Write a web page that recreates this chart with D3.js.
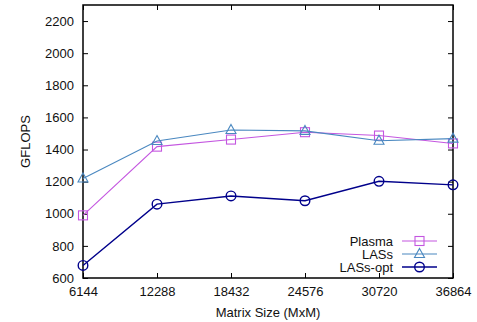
<!DOCTYPE html>
<html>
<head>
<meta charset="utf-8">
<script src="https://cdn.jsdelivr.net/npm/d3@7"></script>
<style>
  body { margin: 0; background: #fff; }
  svg { display: block; font-family: "Liberation Sans", Arial, sans-serif; }
</style>
</head>
<body>
<svg id="chart" width="477" height="322"></svg>
<script>
// matrix sizes on the x axis
const sizes = [6144, 12288, 18432, 24576, 30720, 36864];
const yTicks = [600, 800, 1000, 1200, 1400, 1600, 1800, 2000, 2200];

// GFLOPS
const plasma = [990, 1418, 1462, 1508, 1487, 1438];
const lass = [1220, 1453, 1522, 1516, 1455, 1468];
const lassOpt = [678, 1060, 1111, 1081, 1202, 1180];

const seriesNames = ['Plasma', 'LASs', 'LASs-opt'];
const seriesColors = ['#c456e0', '#4a88c0', '#00008b'];
const seriesMarkers = ['square', 'triangle', 'circle'];

const svg = d3.select('#chart');
const margin = {top: 5, right: 24, bottom: 44, left: 83};
const width = 477 - margin.left - margin.right;
const height = 322 - margin.top - margin.bottom;
const fontSize = 13;

const x = d3.scalePoint().domain(sizes).range([0, width]);
const y = d3.scaleLinear().domain([600, 2300]).range([height, 0]);

const g = svg.append('g')
    .attr('transform', 'translate(' + margin.left + ',' + margin.top + ')');

// axes - ticks point inward, mirrored on top/right like gnuplot
const tickLen = 5;
const xAxis = g.append('g')
    .attr('transform', 'translate(0,' + height + ')')
    .call(d3.axisBottom(x).tickSizeInner(-tickLen).tickSizeOuter(0).tickPadding(9));
const xTop = g.append('g')
    .call(d3.axisTop(x).tickSizeInner(-tickLen).tickSizeOuter(0).tickFormat(''));
const yAxis = g.append('g')
    .call(d3.axisLeft(y).tickValues(yTicks).tickFormat(d3.format('d'))
        .tickSizeInner(-tickLen).tickSizeOuter(0).tickPadding(9));
const yRight = g.append('g')
    .attr('transform', 'translate(' + width + ',0)')
    .call(d3.axisRight(y).tickValues(yTicks).tickSizeInner(-tickLen).tickSizeOuter(0).tickFormat(''));

[xAxis, xTop, yAxis, yRight].forEach(function (a) {
    a.select('.domain').remove();
    a.selectAll('line').attr('stroke', '#000');
    a.selectAll('text').attr('font-size', fontSize).attr('fill', '#111')
        .style('font-family', '"Liberation Sans", Arial, sans-serif');
});

g.append('rect')
    .attr('width', width).attr('height', height)
    .attr('fill', 'none').attr('stroke', '#000').attr('stroke-width', 1.5);

// axis titles
svg.append('text')
    .attr('x', margin.left + width / 2).attr('y', 317)
    .attr('text-anchor', 'middle').attr('font-size', fontSize).attr('fill', '#111')
    .text('Matrix Size (MxM)');
svg.append('text')
    .attr('transform', 'translate(30,' + (margin.top + height / 2) + ') rotate(-90)')
    .attr('text-anchor', 'middle').attr('font-size', fontSize).attr('fill', '#111')
    .text('GFLOPS');

function drawMarker(sel, kind, color) {
    if (kind === 'square') {
        sel.append('rect').attr('x', -4.5).attr('y', -4.5).attr('width', 9).attr('height', 9)
            .attr('fill', 'none').attr('stroke', color).attr('stroke-width', 1.1);
    } else if (kind === 'triangle') {
        sel.append('path').attr('d', 'M0,-5.5L5,3.5L-5,3.5Z')
            .attr('fill', 'none').attr('stroke', color).attr('stroke-width', 1.1);
    } else {
        sel.append('circle').attr('r', 4.8)
            .attr('fill', 'none').attr('stroke', color).attr('stroke-width', 1.4);
    }
}

const line = d3.line()
    .x(function (d, i) { return x(sizes[i]); })
    .y(function (d) { return y(d); });

[plasma, lass, lassOpt].forEach(function (vals, s) {
    const color = seriesColors[s];
    g.append('path')
        .datum(vals)
        .attr('d', line)
        .attr('fill', 'none')
        .attr('stroke', color)
        .attr('stroke-width', s === 2 ? 1.4 : 1.1);
    vals.forEach(function (v, i) {
        const m = g.append('g').attr('transform', 'translate(' + x(sizes[i]) + ',' + y(v) + ')');
        drawMarker(m, seriesMarkers[s], color);
    });
});

// legend
const legend = svg.append('g');
seriesNames.forEach(function (name, s) {
    const ly = 241 + s * 13;
    legend.append('text')
        .attr('x', 393).attr('y', ly + 4.5)
        .attr('text-anchor', 'end').attr('font-size', fontSize).attr('fill', '#111')
        .text(name);
    legend.append('line')
        .attr('x1', 402).attr('x2', 437).attr('y1', ly).attr('y2', ly)
        .attr('stroke', seriesColors[s]).attr('stroke-width', s === 2 ? 1.4 : 1.1);
    drawMarker(legend.append('g').attr('transform', 'translate(419.5,' + ly + ')'),
        seriesMarkers[s], seriesColors[s]);
});
</script>
</body>
</html>
